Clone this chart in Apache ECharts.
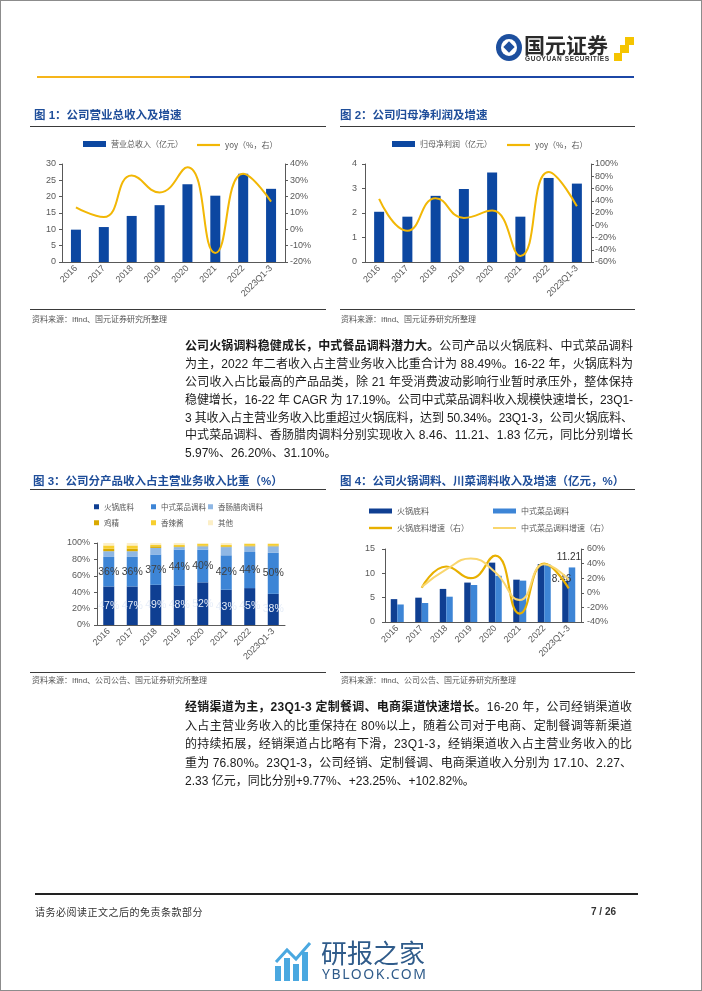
<!DOCTYPE html>
<html><head><meta charset="utf-8">
<script src="https://cdn.jsdelivr.net/npm/echarts@6/dist/echarts.min.js"></script>
<style>
html,body{margin:0;padding:0;background:#fff;}
#page{position:relative;width:702px;height:991px;overflow:hidden;background:#fff;font-family:"Liberation Sans","Noto Sans CJK SC",sans-serif;}
#chart{position:absolute;left:0;top:0;width:702px;height:991px;}
.abs{position:absolute;white-space:nowrap;}
.title{font-size:11.5px;font-weight:bold;color:#1f4e9a;line-height:16px;}
.hl{position:absolute;height:1px;background:#3a3a3a;}
.src{position:absolute;white-space:nowrap;font-size:8px;color:#555;line-height:12px;}
.jl{position:absolute;left:185px;font-size:12px;color:#1a1a1a;white-space:nowrap;line-height:18px;}
.jl b{font-weight:bold;}
</style></head>
<body>
<div id="page">
  <div id="chart"></div>
  <div class="abs" style="left:0;top:0;width:702px;height:991px;border:1px solid #8c8c8c;box-sizing:border-box;"></div>

  <!-- header -->
  <div class="abs" style="left:496px;top:34px;width:26px;height:27px;border-radius:50%;background:#1d4f9e;"></div>
  <div class="abs" style="left:501px;top:39px;width:16px;height:17px;border-radius:50%;background:#fff;"></div>
  <div class="abs" style="left:505px;top:43px;width:8px;height:8px;transform:rotate(45deg);background:#1d4f9e;"></div>
  <div class="abs" style="left:524px;top:31px;font-size:21px;font-weight:bold;color:#2a2a2a;font-family:'Noto Sans CJK SC';line-height:26px;">国元证券</div>
  <div class="abs jfit" data-w="84" style="left:525px;top:55px;font-size:6.5px;font-weight:bold;color:#333;line-height:8px;">GUOYUAN SECURITIES</div>
  <div class="abs" style="left:625px;top:37px;width:9px;height:8px;background:#f5c400;"></div>
  <div class="abs" style="left:620px;top:45px;width:9px;height:8px;background:#f5c400;"></div>
  <div class="abs" style="left:614px;top:53px;width:8px;height:8px;background:#f5c400;"></div>
  <div class="abs" style="left:37px;top:76px;width:153px;height:2px;background:#f6b51a;"></div>
  <div class="abs" style="left:190px;top:76px;width:444px;height:2px;background:#1c47a6;"></div>

  <!-- chart titles -->
  <div class="abs title" style="left:34px;top:107px;">图 1：公司营业总收入及增速</div>
  <div class="abs title" style="left:340px;top:107px;">图 2：公司归母净利润及增速</div>
  <div class="hl" style="left:30px;top:126px;width:296px;"></div>
  <div class="hl" style="left:340px;top:126px;width:295px;"></div>
  <div class="hl" style="left:30px;top:309px;width:296px;"></div>
  <div class="hl" style="left:340px;top:309px;width:295px;"></div>
  <div class="src" style="left:32px;top:314px;">资料来源：Ifind、国元证券研究所整理</div>
  <div class="src" style="left:341px;top:314px;">资料来源：Ifind、国元证券研究所整理</div>

  <!-- paragraph 1 -->
  <div class="jl jfit" data-w="448" style="top:337px;"><b>公司火锅调料稳健成长，中式餐品调料潜力大。</b>公司产品以火锅底料、中式菜品调料</div>
  <div class="jl jfit" data-w="448" style="top:355px;">为主，2022 年二者收入占主营业务收入比重合计为 88.49%。16-22 年，火锅底料为</div>
  <div class="jl jfit" data-w="448" style="top:373px;">公司收入占比最高的产品品类，除 21 年受消费波动影响行业暂时承压外，整体保持</div>
  <div class="jl jfit" data-w="448" style="top:391px;">稳健增长，16-22 年 CAGR 为 17.19%。公司中式菜品调料收入规模快速增长，23Q1-</div>
  <div class="jl jfit" data-w="448" style="top:409px;">3 其收入占主营业务收入比重超过火锅底料，达到 50.34%。23Q1-3，公司火锅底料、</div>
  <div class="jl jfit" data-w="448" style="top:426px;">中式菜品调料、香肠腊肉调料分别实现收入 8.46、11.21、1.83 亿元，同比分别增长</div>
  <div class="jl" style="top:444px;">5.97%、26.20%、31.10%。</div>

  <div class="abs title" style="left:33px;top:473px;">图 3：公司分产品收入占主营业务收入比重（%）</div>
  <div class="abs title" style="left:340px;top:473px;">图 4：公司火锅调料、川菜调料收入及增速（亿元，%）</div>
  <div class="hl" style="left:30px;top:489px;width:296px;"></div>
  <div class="hl" style="left:340px;top:489px;width:295px;"></div>
  <div class="hl" style="left:30px;top:672px;width:296px;"></div>
  <div class="hl" style="left:340px;top:672px;width:295px;"></div>
  <div class="src" style="left:32px;top:675px;">资料来源：Ifind、公司公告、国元证券研究所整理</div>
  <div class="src" style="left:341px;top:675px;">资料来源：Ifind、公司公告、国元证券研究所整理</div>

  <!-- paragraph 2 -->
  <div class="jl jfit" data-w="447" style="top:698px;"><b>经销渠道为主，23Q1-3 定制餐调、电商渠道快速增长。</b>16-20 年，公司经销渠道收</div>
  <div class="jl jfit" data-w="447" style="top:717px;">入占主营业务收入的比重保持在 80%以上，随着公司对于电商、定制餐调等新渠道</div>
  <div class="jl jfit" data-w="447" style="top:735px;">的持续拓展，经销渠道占比略有下滑，23Q1-3，经销渠道收入占主营业务收入的比</div>
  <div class="jl jfit" data-w="447" style="top:754px;">重为 76.80%。23Q1-3，公司经销、定制餐调、电商渠道收入分别为 17.10、2.27、</div>
  <div class="jl" style="top:772px;">2.33 亿元，同比分别+9.77%、+23.25%、+102.82%。</div>

  <!-- footer -->
  <div class="abs" style="left:35px;top:893px;width:603px;height:1.5px;background:#222;"></div>
  <div class="abs" style="left:35px;top:905px;font-size:10px;color:#333;letter-spacing:0.5px;line-height:14px;font-family:'Noto Sans CJK SC';">请务必阅读正文之后的免责条款部分</div>
  <div class="abs" style="left:591px;top:905px;font-size:10px;font-weight:bold;color:#333;line-height:14px;">7 / 26</div>

  <!-- watermark -->
  <svg class="abs" style="left:274px;top:940px;" width="42" height="42" viewBox="0 0 42 42">
    <rect x="1" y="26" width="6" height="15" fill="#4aa8e0"/>
    <rect x="10" y="18" width="6" height="23" fill="#4aa8e0"/>
    <rect x="19" y="24" width="6" height="17" fill="#4aa8e0"/>
    <rect x="28" y="12" width="6" height="29" fill="#4aa8e0"/>
    <polyline points="2,22 13,10 22,19 36,3" fill="none" stroke="#4aa8e0" stroke-width="3"/>
  </svg>
  <div class="abs" style="left:321px;top:936px;font-size:26px;color:#2f5b8a;font-family:'Noto Sans CJK SC';line-height:32px;">研报之家</div>
  <div class="abs jfit" data-w="104" style="left:322px;top:966px;font-size:14px;color:#2f5b8a;line-height:16px;font-family:'Noto Sans';">YBLOOK.COM</div>
</div>

<script>
// ---------- data ----------
const years = ['2016','2017','2018','2019','2020','2021','2022','2023Q1-3'];
// Figure 1
const revenue = [9.9, 10.7, 14.1, 17.4, 23.8, 20.3, 27.0, 22.4];
const revenueYoy = [13.5, 7.5, 32.9, 22.6, 38.0, -14.5, 34.0, 17.0];
// Figure 2
const netProfit = [2.05, 1.85, 2.70, 2.98, 3.65, 1.85, 3.43, 3.20];
const netProfitYoy = [43, -9, 44, 12, 24, -50, 87, 31];
// Figure 3 (share of main business revenue, %)
const shareHotpot = [47, 47, 49, 48, 52, 43, 45, 38];
const shareChinese = [36, 36, 37, 44, 40, 42, 44, 50];
const shareSausage = [7, 7, 8, 3, 4, 10, 7, 8];
const shareChicken = [3, 3, 2, 1, 1, 1, 1, 1];
const shareSpicy = [4, 4, 2, 2, 2, 2, 2, 2];
const shareOther = [3, 3, 2, 2, 1, 2, 1, 1];
// Figure 4
const hotpotRev = [4.7, 5.0, 6.8, 8.1, 12.2, 8.7, 11.9, 8.46];
const chineseRev = [3.6, 3.9, 5.2, 7.6, 9.5, 8.5, 11.8, 11.21];
const hotpotYoy = [null, 7, 36, 20, 51, -28.5, 40, 6];
const chineseYoy = [null, 8, 32, 47, 28, -10, 39, 18];

// ---------- justify text lines ----------
document.querySelectorAll('.jfit').forEach(el => {
  const target = +el.dataset.w;
  const w = el.getBoundingClientRect().width;
  const n = el.textContent.length;
  if (n > 1) el.style.letterSpacing = ((target - w) / (n - 1)) + 'px';
});

// ---------- chart ----------
const AX = '#595959', LBL = '#595959';
const FONT = 'Liberation Sans';
const CJK = 'Noto Sans CJK SC';
const C_BAR = '#0c47a1', C_LINE = '#f2b705';
const C_HOT = '#0f3f92', C_CHN = '#3d85d6', C_SAU = '#8fb7e4', C_CHK = '#d9a900', C_SPI = '#f7cf2f', C_OTH = '#fcefc7';

function catAxis(gi) {
  return {type:'category', gridIndex:gi, data:years,
    axisLine:{lineStyle:{color:AX}}, axisTick:{length:4, lineStyle:{color:AX}},
    axisLabel:{interval:0, rotate:45, fontSize:9, color:LBL, margin:5, fontFamily:FONT}};
}
function valAxis(gi, min, max, interval, pos, pct, margin) {
  return {type:'value', gridIndex:gi, position:pos, min:min, max:max, interval:interval,
    splitLine:{show:false}, axisLine:{show:true, lineStyle:{color:AX}},
    axisTick:{show:true, length:3, lineStyle:{color:AX}},
    axisLabel:{fontSize:9, color:LBL, margin:margin, fontFamily:FONT, formatter: pct ? '{value}%' : '{value}'}};
}
function leg(name, left, top, w, h, fs) {
  return {data:[name], left:left, top:top, itemWidth:w, itemHeight:h, padding:0, icon:'rect',
    textStyle:{fontSize:fs || 8, color:LBL, fontFamily:CJK}, selectedMode:false};
}
function lastLabel(arr, offset) {
  return arr.map((v, i) => i === arr.length - 1 ?
    {value:v, label:{show:true, position:'top', fontSize:10, color:'#333', fontFamily:FONT, offset:offset}} : v);
}
function pctLabel(color) {
  return {show:true, position:'inside', formatter:'{c}%', fontSize:10.5, color:color, fontFamily:FONT};
}

const chart = echarts.init(document.getElementById('chart'), null, {renderer:'canvas'});
chart.setOption({
  animation:false,
  grid:[
    {left:62, top:164, width:223, height:98},
    {left:365, top:164, width:226, height:98},
    {left:97, top:543, width:188, height:82},
    {left:385, top:549, width:196, height:73}
  ],
  legend:[
    leg('营业总收入（亿元）', 83, 140, 23, 6),
    leg('yoy（%，右）', 197, 141, 23, 2.2),
    leg('归母净利润（亿元）', 392, 140, 23, 6),
    leg('yoy（%，右） ', 507, 141, 23, 2.2),
    leg('火锅底料', 94, 503, 5, 5, 7.5),
    leg('中式菜品调料', 151, 503, 5, 5, 7.5),
    leg('香肠腊肉调料', 208, 503, 5, 5, 7.5),
    leg('鸡精', 94, 519, 5, 5, 7.5),
    leg('香辣酱', 151, 519, 5, 5, 7.5),
    leg('其他', 208, 519, 5, 5, 7.5),
    leg('火锅底料 ', 369, 507, 23, 5),
    leg('中式菜品调料 ', 493, 507, 23, 5),
    leg('火锅底料增速（右）', 369, 524, 23, 2.4),
    leg('中式菜品调料增速（右）', 493, 524, 23, 2)
  ],
  xAxis:[catAxis(0), catAxis(1), catAxis(2), catAxis(3)],
  yAxis:[
    valAxis(0, 0, 30, 5, 'left', false, 6),
    valAxis(0, -20, 40, 10, 'right', true, 5),
    valAxis(1, 0, 4, 1, 'left', false, 8),
    valAxis(1, -60, 100, 20, 'right', true, 4),
    valAxis(2, 0, 100, 20, 'left', true, 7),
    valAxis(3, 0, 15, 5, 'left', false, 10),
    valAxis(3, -40, 60, 20, 'right', true, 6)
  ],
  series:[
    {name:'营业总收入（亿元）', type:'bar', xAxisIndex:0, yAxisIndex:0, data:revenue, barWidth:10, itemStyle:{color:C_BAR}},
    {name:'yoy（%，右）', type:'line', xAxisIndex:0, yAxisIndex:1, data:revenueYoy, smooth:true, symbol:'none', lineStyle:{width:2, color:C_LINE}, itemStyle:{color:C_LINE}},
    {name:'归母净利润（亿元）', type:'bar', xAxisIndex:1, yAxisIndex:2, data:netProfit, barWidth:10, itemStyle:{color:C_BAR}},
    {name:'yoy（%，右） ', type:'line', xAxisIndex:1, yAxisIndex:3, data:netProfitYoy, smooth:true, symbol:'none', lineStyle:{width:2, color:C_LINE}, itemStyle:{color:C_LINE}},

    {name:'火锅底料', type:'bar', stack:'share', xAxisIndex:2, yAxisIndex:4, data:shareHotpot, barWidth:11, itemStyle:{color:C_HOT}, label:pctLabel('#e6edf8')},
    {name:'中式菜品调料', type:'bar', stack:'share', xAxisIndex:2, yAxisIndex:4, data:shareChinese, barWidth:11, itemStyle:{color:C_CHN}, label:pctLabel('#404040')},
    {name:'香肠腊肉调料', type:'bar', stack:'share', xAxisIndex:2, yAxisIndex:4, data:shareSausage, barWidth:11, itemStyle:{color:C_SAU}},
    {name:'鸡精', type:'bar', stack:'share', xAxisIndex:2, yAxisIndex:4, data:shareChicken, barWidth:11, itemStyle:{color:C_CHK}},
    {name:'香辣酱', type:'bar', stack:'share', xAxisIndex:2, yAxisIndex:4, data:shareSpicy, barWidth:11, itemStyle:{color:C_SPI}},
    {name:'其他', type:'bar', stack:'share', xAxisIndex:2, yAxisIndex:4, data:shareOther, barWidth:11, itemStyle:{color:C_OTH}},

    {name:'火锅底料 ', type:'bar', xAxisIndex:3, yAxisIndex:5, data:lastLabel(hotpotRev, [-4, 8]), barWidth:6.5, barGap:'0%', itemStyle:{color:C_HOT}},
    {name:'中式菜品调料 ', type:'bar', xAxisIndex:3, yAxisIndex:5, data:lastLabel(chineseRev, [-3, 0]), barWidth:6.5, barGap:'0%', itemStyle:{color:C_CHN}},
    {name:'火锅底料增速（右）', type:'line', xAxisIndex:3, yAxisIndex:6, data:hotpotYoy, smooth:true, symbol:'none', lineStyle:{width:2.2, color:'#e8b000'}, itemStyle:{color:'#e8b000'}},
    {name:'中式菜品调料增速（右）', type:'line', xAxisIndex:3, yAxisIndex:6, data:chineseYoy, smooth:true, symbol:'none', lineStyle:{width:2, color:'#f9d66e'}, itemStyle:{color:'#f9d66e'}}
  ]
});
</script>
</body></html>
